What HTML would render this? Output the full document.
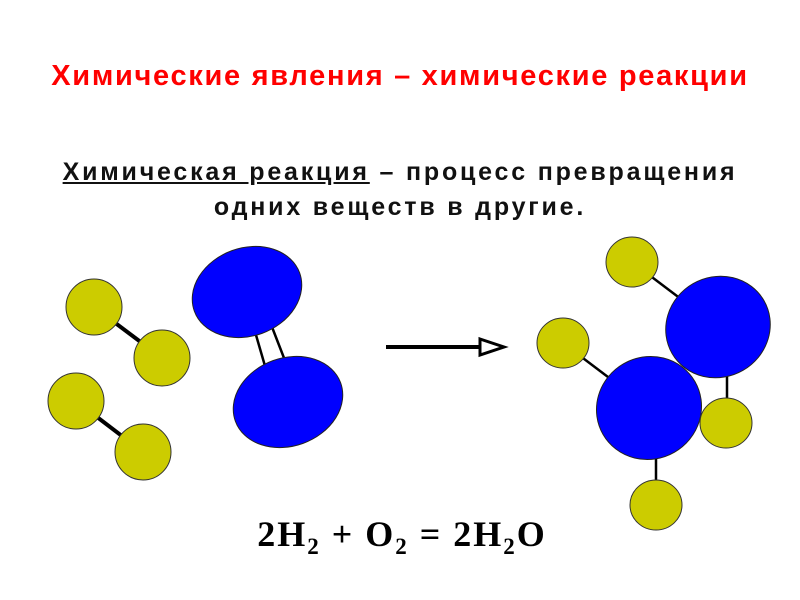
<!DOCTYPE html>
<html><head><meta charset="utf-8"><style>
body{margin:0;width:800px;height:600px;background:#fff;overflow:hidden;position:relative;font-family:"Liberation Sans",sans-serif}
.t{position:absolute;left:0;width:800px;text-align:center;font-weight:bold;white-space:nowrap}
</style></head><body>
<div class="t" style="top:59px;font-size:29px;line-height:34px;letter-spacing:1.7px;color:#f00">Химические явления – химические реакции</div>
<div class="t" style="top:155px;font-size:25px;color:#111;line-height:35px;letter-spacing:2.8px"><span style="text-decoration:underline">Химическая реакция</span> – процесс превращения<br>одних веществ в другие.</div>
<svg width="800" height="600" style="position:absolute;left:0;top:0">
<g stroke="#000" stroke-width="4">
<line x1="94" y1="307" x2="162" y2="358"/>
<line x1="76" y1="401" x2="143" y2="452"/>
</g>
<g stroke="#000" stroke-width="2.5">
<line x1="256" y1="335" x2="265" y2="366"/>
<line x1="272" y1="327" x2="284" y2="358"/>
<line x1="632" y1="262" x2="718" y2="327"/>
<line x1="563" y1="343" x2="649" y2="408"/>
<line x1="727" y1="327" x2="727" y2="423"/>
<line x1="656" y1="408" x2="656" y2="505"/>
</g>
<g fill="#cccc00" stroke="#333" stroke-width="1">
<circle cx="94" cy="307" r="28"/><circle cx="162" cy="358" r="28"/>
<circle cx="76" cy="401" r="28"/><circle cx="143" cy="452" r="28"/>
</g>
<g fill="#0000ff" stroke="#222" stroke-width="1">
<ellipse cx="247" cy="292" rx="56" ry="44" transform="rotate(-20 247 292)"/>
<ellipse cx="288" cy="402" rx="56" ry="44" transform="rotate(-20 288 402)"/>
</g>
<g fill="#0000ff" stroke="#222" stroke-width="1">
<ellipse cx="718" cy="327" rx="53" ry="50" transform="rotate(-30 718 327)"/>
<ellipse cx="649" cy="408" rx="53" ry="51" transform="rotate(-30 649 408)"/>
</g>
<g fill="#cccc00" stroke="#333" stroke-width="1">
<ellipse cx="632" cy="262" rx="26" ry="25"/><ellipse cx="563" cy="343" rx="26" ry="25"/>
<ellipse cx="726" cy="423" rx="26" ry="25"/><ellipse cx="656" cy="505" rx="26" ry="25"/>
</g>
<line x1="386" y1="347" x2="482" y2="347" stroke="#000" stroke-width="4"/>
<polygon points="480,339 504,347 480,355" fill="#fff" stroke="#000" stroke-width="3"/>
<text x="402" y="546" text-anchor="middle" font-family="Liberation Serif,serif" font-weight="bold" font-size="36" letter-spacing="2" fill="#000">2H<tspan font-size="23" dy="8">2</tspan><tspan dy="-8"> + O</tspan><tspan font-size="23" dy="8">2</tspan><tspan dy="-8"> = 2H</tspan><tspan font-size="23" dy="8">2</tspan><tspan dy="-8">O</tspan></text>
</svg>
</body></html>
